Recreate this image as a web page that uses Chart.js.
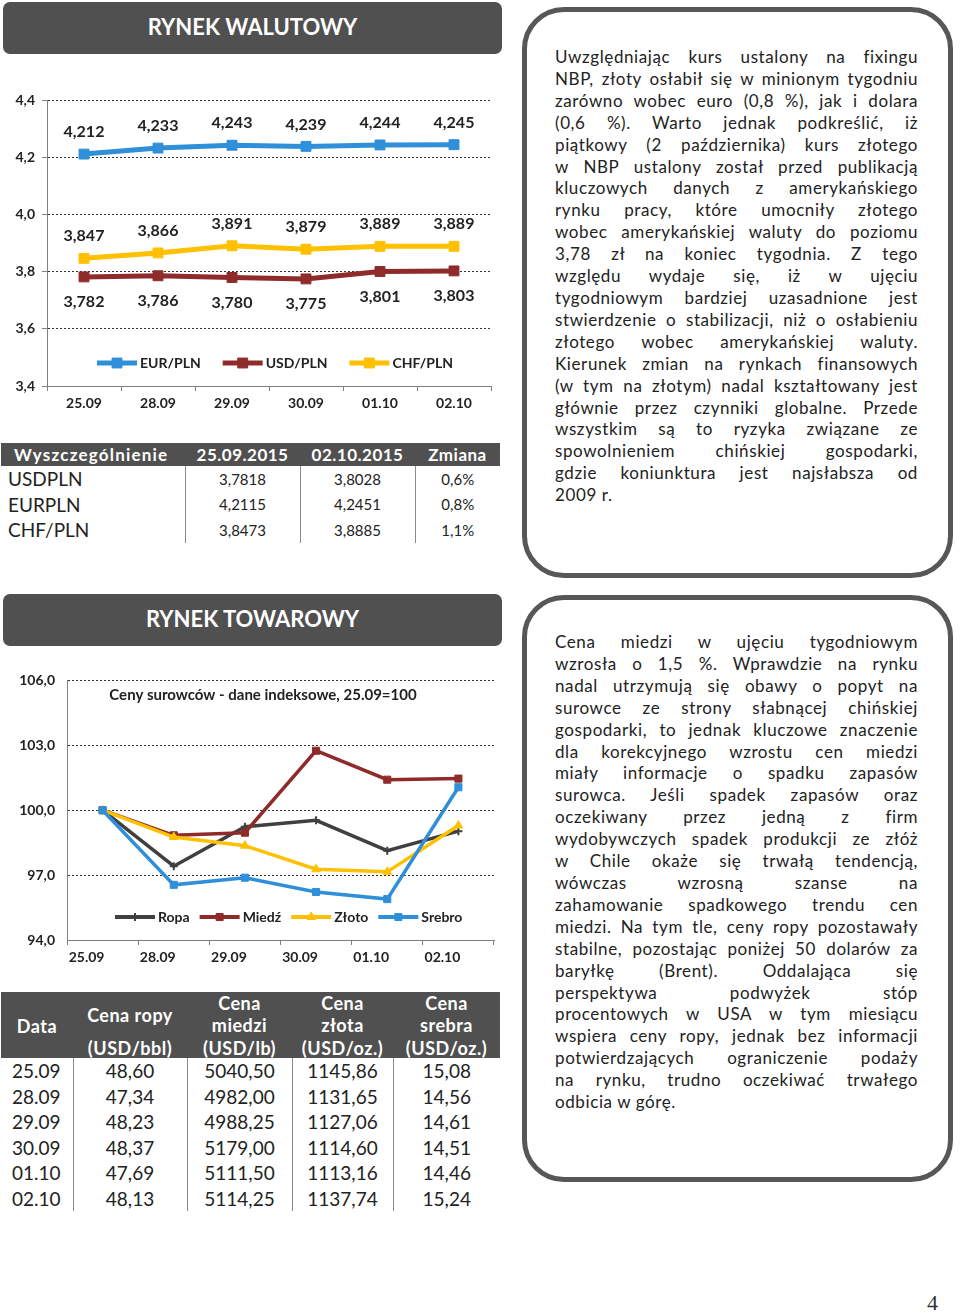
<!DOCTYPE html>
<html lang="pl">
<head>
<meta charset="utf-8">
<title>Rynek walutowy / Rynek towarowy</title>
<script src="https://cdn.jsdelivr.net/npm/chart.js@4.4.0/dist/chart.umd.min.js"></script>
<style>
  html, body { margin: 0; padding: 0; background: #fff; }
  body { width: 960px; height: 1314px; position: relative; overflow: hidden;
         font-family: Lato, "Open Sans", sans-serif; color: #1a1a1a; }
  .banner { position: absolute; left: 3px; width: 499px; height: 52px; background: #505050;
            border-radius: 7px; color: #fff; font-weight: bold; font-size: 22px;
            text-align: center; line-height: 50px; }
  .box { position: absolute; left: 522px; width: 431px; box-sizing: border-box;
         border: 5px solid #575757; border-radius: 42px; }
  .txt { position: absolute; left: 555px; width: 363px; font-size: 17px; line-height: 21.9px;
         letter-spacing: 0.6px; color: #222; }
  .txt div { text-align: justify; text-align-last: justify; }
  .txt div.last { text-align-last: left; }
  .chartBox { position: absolute; left: 0; }
  table { position: absolute; left: 1px; width: 499px; border-collapse: collapse; table-layout: fixed; }
  th { background: #505050; color: #fff; font-weight: bold; padding: 0; letter-spacing: 0.5px; }
  td { padding: 0; text-align: center; border-left: 1px solid #8a8a8a; color: #222; }
  td:first-child { border-left: none; text-align: left; }
  #fxTable th { height: 23px; font-size: 17px; }
  #fxTable th:first-child { text-align: left; padding-left: 13px; letter-spacing: 1.2px; }
  #fxTable td { height: 25.5px; font-size: 15px; }
  #fxTable td:first-child { font-size: 19px; padding-left: 7px; }
  #comTable th { height: 66px; font-size: 18px; position: relative; vertical-align: top; }
  #comTable th div { position: absolute; left: 0; right: 0; line-height: 22px; }
  #comTable td { height: 25.5px; font-size: 19px; }
  #comTable td:first-child { padding-left: 11px; }
  #pageNo { position: absolute; left: 927px; top: 1290px; font-family: "Liberation Serif", serif; font-size: 22px; color: #333; }
</style>
</head>
<body>

<div class="banner" style="top:2px;">RYNEK WALUTOWY</div>
<div class="banner" style="top:594px;">RYNEK TOWAROWY</div>

<div class="chartBox" style="top:85px;"><canvas id="fxChart" width="500" height="330"></canvas></div>
<div class="chartBox" style="top:660px;"><canvas id="comChart" width="500" height="318"></canvas></div>

<table id="fxTable" style="top:443px;">
  <colgroup><col style="width:184px"><col style="width:115px"><col style="width:115px"><col style="width:85px"></colgroup>
  <thead><tr id="fxHead"></tr></thead>
  <tbody id="fxBody"></tbody>
</table>

<table id="comTable" style="top:992px;">
  <colgroup><col style="width:72px"><col style="width:114px"><col style="width:105px"><col style="width:101px"><col style="width:107px"></colgroup>
  <thead><tr id="comHead"></tr></thead>
  <tbody id="comBody"></tbody>
</table>

<div class="box" style="top:7px; height:571px;"></div>
<div class="txt" style="top:46px;">
  <div>Uwzględniając kurs ustalony na fixingu</div>
  <div>NBP, złoty osłabił się w minionym tygodniu</div>
  <div>zarówno wobec euro (0,8 %), jak i dolara</div>
  <div>(0,6 %). Warto jednak podkreślić, iż</div>
  <div>piątkowy (2 października) kurs złotego</div>
  <div>w NBP ustalony został przed publikacją</div>
  <div>kluczowych danych z amerykańskiego</div>
  <div>rynku pracy, które umocniły złotego</div>
  <div>wobec amerykańskiej waluty do poziomu</div>
  <div>3,78 zł na koniec tygodnia. Z tego</div>
  <div>względu wydaje się, iż w ujęciu</div>
  <div>tygodniowym bardziej uzasadnione jest</div>
  <div>stwierdzenie o stabilizacji, niż o osłabieniu</div>
  <div>złotego wobec amerykańskiej waluty.</div>
  <div>Kierunek zmian na rynkach finansowych</div>
  <div>(w tym na złotym) nadal kształtowany jest</div>
  <div>głównie przez czynniki globalne. Przede</div>
  <div>wszystkim są to ryzyka związane ze</div>
  <div>spowolnieniem chińskiej gospodarki,</div>
  <div>gdzie koniunktura jest najsłabsza od</div>
  <div class="last">2009 r.</div>
</div>

<div class="box" style="top:595px; height:587px;"></div>
<div class="txt" style="top:631px;">
  <div>Cena miedzi w ujęciu tygodniowym</div>
  <div>wzrosła o 1,5 %. Wprawdzie na rynku</div>
  <div>nadal utrzymują się obawy o popyt na</div>
  <div>surowce ze strony słabnącej chińskiej</div>
  <div>gospodarki, to jednak kluczowe znaczenie</div>
  <div>dla korekcyjnego wzrostu cen miedzi</div>
  <div>miały informacje o spadku zapasów</div>
  <div>surowca. Jeśli spadek zapasów oraz</div>
  <div>oczekiwany przez jedną z firm</div>
  <div>wydobywczych spadek produkcji ze złóż</div>
  <div>w Chile okaże się trwałą tendencją,</div>
  <div>wówczas wzrosną szanse na</div>
  <div>zahamowanie spadkowego trendu cen</div>
  <div>miedzi. Na tym tle, ceny ropy pozostawały</div>
  <div>stabilne, pozostając poniżej 50 dolarów za</div>
  <div>baryłkę (Brent). Oddalająca się</div>
  <div>perspektywa podwyżek stóp</div>
  <div>procentowych w USA w tym miesiącu</div>
  <div>wspiera ceny ropy, jednak bez informacji</div>
  <div>potwierdzających ograniczenie podaży</div>
  <div>na rynku, trudno oczekiwać trwałego</div>
  <div class="last">odbicia w górę.</div>
</div>

<div id="pageNo">4</div>

<script>
// ---- dane: kursy walut
const fxDates = ["25.09", "28.09", "29.09", "30.09", "01.10", "02.10"];
const eurPln = [4.212, 4.233, 4.243, 4.239, 4.244, 4.245];
const usdPln = [3.782, 3.786, 3.780, 3.775, 3.801, 3.803];
const chfPln = [3.847, 3.866, 3.891, 3.879, 3.889, 3.889];
const fxMin = 3.4, fxMax = 4.4, fxStep = 0.2;

// ---- dane: surowce (indeks, 25.09 = 100)
const comDates = ["25.09", "28.09", "29.09", "30.09", "01.10", "02.10"];
const ropa = [100, 97.41, 99.24, 99.53, 98.13, 99.03];
const miedz = [100, 98.84, 98.96, 102.75, 101.41, 101.46];
const zloto = [100, 98.76, 98.36, 97.27, 97.15, 99.29];
const srebro = [100, 96.55, 96.88, 96.22, 95.89, 101.06];
const comMin = 94, comMax = 106, comStep = 3;
const comTitle = "Ceny surowców - dane indeksowe, 25.09=100";

// ---- tabele
const fxHeader = ["Wyszczególnienie", "25.09.2015", "02.10.2015", "Zmiana"];
const fxRows = [
  ["USDPLN", "3,7818", "3,8028", "0,6%"],
  ["EURPLN", "4,2115", "4,2451", "0,8%"],
  ["CHF/PLN", "3,8473", "3,8885", "1,1%"],
];
const comHeader = [["Data"], ["Cena ropy", "(USD/bbl)"], ["Cena", "miedzi", "(USD/lb)"], ["Cena", "złota", "(USD/oz.)"], ["Cena", "srebra", "(USD/oz.)"]];
const comRows = [
  ["25.09", "48,60", "5040,50", "1145,86", "15,08"],
  ["28.09", "47,34", "4982,00", "1131,65", "14,56"],
  ["29.09", "48,23", "4988,25", "1127,06", "14,61"],
  ["30.09", "48,37", "5179,00", "1114,60", "14,51"],
  ["01.10", "47,69", "5111,50", "1113,16", "14,46"],
  ["02.10", "48,13", "5114,25", "1137,74", "15,24"],
];

const BLUE = "#2F8FD9", RED = "#902B2B", YELLOW = "#FFC000", GREY = "#404040";

// tabele -> DOM
document.getElementById("fxHead").innerHTML = fxHeader.map(h => "<th>" + h + "</th>").join("");
document.getElementById("fxBody").innerHTML = fxRows.map(r => "<tr>" + r.map(c => "<td>" + c + "</td>").join("") + "</tr>").join("");

// pozycje linii w nagłówku zależnie od liczby wierszy
const headTops = { 1: [23], 2: [12, 45], 3: [0, 22, 45] };
document.getElementById("comHead").innerHTML = comHeader.map(lines =>
  "<th>" + lines.map((l, i) => '<div style="top:' + headTops[lines.length][i] + 'px">' + l + "</div>").join("") + "</th>"
).join("");
document.getElementById("comBody").innerHTML = comRows.map(r => "<tr>" + r.map(c => "<td>" + c + "</td>").join("") + "</tr>").join("");

Chart.defaults.font.family = "Lato";
Chart.defaults.color = "#222";

const comma = (v, d) => v.toFixed(d).replace(".", ",");

// etykiety wartości przy punktach
const valueLabels = {
  id: "valueLabels",
  afterDatasetsDraw(chart) {
    const ctx = chart.ctx;
    ctx.save();
    ctx.font = "bold 16px Lato";
    ctx.fillStyle = "#222";
    ctx.textAlign = "center";
    ctx.textBaseline = "middle";
    chart.data.datasets.forEach((ds, i) => {
      chart.getDatasetMeta(i).data.forEach((pt, j) => {
        ctx.fillText(comma(ds.data[j], 3), pt.x, pt.y + ds.labelShift);
      });
    });
    ctx.restore();
  }
};

// legenda (i tytuł) wewnątrz obszaru wykresu
const insideLegend = {
  id: "insideLegend",
  afterDraw(chart, args, opts) {
    const ctx = chart.ctx;
    ctx.save();
    ctx.textBaseline = "middle";
    if (opts.title) {
      ctx.font = "bold 15px Lato";
      ctx.fillStyle = "#222";
      ctx.textAlign = "center";
      ctx.fillText(opts.title, opts.titleX, opts.titleY);
    }
    ctx.font = "bold 14px Lato";
    ctx.textAlign = "left";
    let x = opts.x;
    chart.data.datasets.forEach(ds => {
      ctx.strokeStyle = ds.borderColor;
      ctx.lineWidth = opts.lineWidth;
      ctx.beginPath();
      ctx.moveTo(x, opts.y);
      ctx.lineTo(x + 40, opts.y);
      ctx.stroke();
      ctx.fillStyle = ds.pointBackgroundColor;
      ctx.strokeStyle = ds.pointBorderColor;
      ctx.lineWidth = ds.pointBorderWidth;
      Chart.helpers.drawPoint(ctx, { pointStyle: ds.pointStyle, radius: ds.pointRadius, rotation: 0, borderWidth: ds.pointBorderWidth }, x + 20, opts.y);
      ctx.fillStyle = "#222";
      ctx.fillText(ds.label, x + 43, opts.y);
      x += 43 + ctx.measureText(ds.label).width + opts.gap;
    });
    ctx.restore();
  }
};

function fxSeries(label, data, color, shift) {
  return {
    label: label, data: data, labelShift: shift,
    borderColor: color, backgroundColor: color,
    pointBackgroundColor: color, pointBorderColor: color, pointBorderWidth: 1,
    pointStyle: "rect", pointRadius: 7, borderWidth: 5, tension: 0
  };
}

new Chart(document.getElementById("fxChart"), {
  type: "line",
  data: {
    labels: fxDates,
    datasets: [
      fxSeries("EUR/PLN", eurPln, BLUE, -22),
      fxSeries("USD/PLN", usdPln, RED, 25),
      fxSeries("CHF/PLN", chfPln, YELLOW, -22),
    ]
  },
  options: {
    responsive: false,
    animation: false,
    layout: { padding: { left: 0, top: 14, right: 9, bottom: 0 } },
    plugins: {
      legend: { display: false },
      tooltip: { enabled: false },
      insideLegend: { x: 97, y: 278, gap: 22, lineWidth: 5 }
    },
    scales: {
      x: {
        offset: true,
        afterFit: s => { s.height = 29; },
        grid: { offset: true, drawOnChartArea: false, tickLength: 5, color: "#808080", tickBorderDash: [] },
        border: { color: "#808080", width: 1 },
        ticks: { font: { size: 14, weight: "bold" }, padding: 4, maxRotation: 0 }
      },
      y: {
        min: fxMin, max: fxMax,
        afterFit: s => { s.width = 47; },
        grid: { color: "#333", tickColor: "#808080", tickLength: 5, tickBorderDash: [] },
        border: { color: "#808080", width: 1, dash: [2, 2] },
        ticks: { stepSize: fxStep, font: { size: 14, weight: "bold" }, padding: 7, callback: v => comma(v, 1) }
      }
    }
  },
  plugins: [valueLabels, insideLegend]
});

function comSeries(label, data, color, style, radius, order) {
  return {
    label: label, data: data, order: order,
    borderColor: color, backgroundColor: color,
    pointBackgroundColor: color, pointBorderColor: color, pointBorderWidth: style === "cross" ? 2 : 1,
    pointStyle: style, pointRadius: radius, borderWidth: 3.5, tension: 0
  };
}

new Chart(document.getElementById("comChart"), {
  type: "line",
  data: {
    labels: comDates,
    datasets: [
      comSeries("Ropa", ropa, GREY, "cross", 4, 3),
      comSeries("Miedź", miedz, RED, "rect", 5, 2),
      comSeries("Złoto", zloto, YELLOW, "triangle", 5, 1),
      comSeries("Srebro", srebro, BLUE, "rect", 5, 0),
    ]
  },
  options: {
    responsive: false,
    animation: false,
    layout: { padding: { left: 0, top: 16, right: 0, bottom: 0 } },
    plugins: {
      legend: { display: false },
      tooltip: { enabled: false },
      insideLegend: { x: 115, y: 257, gap: 10, lineWidth: 4, title: comTitle, titleX: 263, titleY: 35 }
    },
    scales: {
      x: {
        offset: true,
        afterFit: s => { s.height = 38; },
        grid: { offset: true, drawOnChartArea: false, tickLength: 5, color: "#808080", tickBorderDash: [] },
        border: { color: "#808080", width: 1 },
        ticks: { font: { size: 14, weight: "bold" }, padding: 4, labelOffset: -16, maxRotation: 0 }
      },
      y: {
        min: comMin, max: comMax,
        afterFit: s => { s.width = 67; },
        grid: { color: "#333", drawTicks: false },
        border: { color: "#808080", width: 1, dash: [2, 2] },
        ticks: { stepSize: comStep, font: { size: 14, weight: "bold" }, padding: 12, callback: v => comma(v, 1) }
      }
    }
  },
  plugins: [insideLegend]
});
</script>
</body>
</html>
